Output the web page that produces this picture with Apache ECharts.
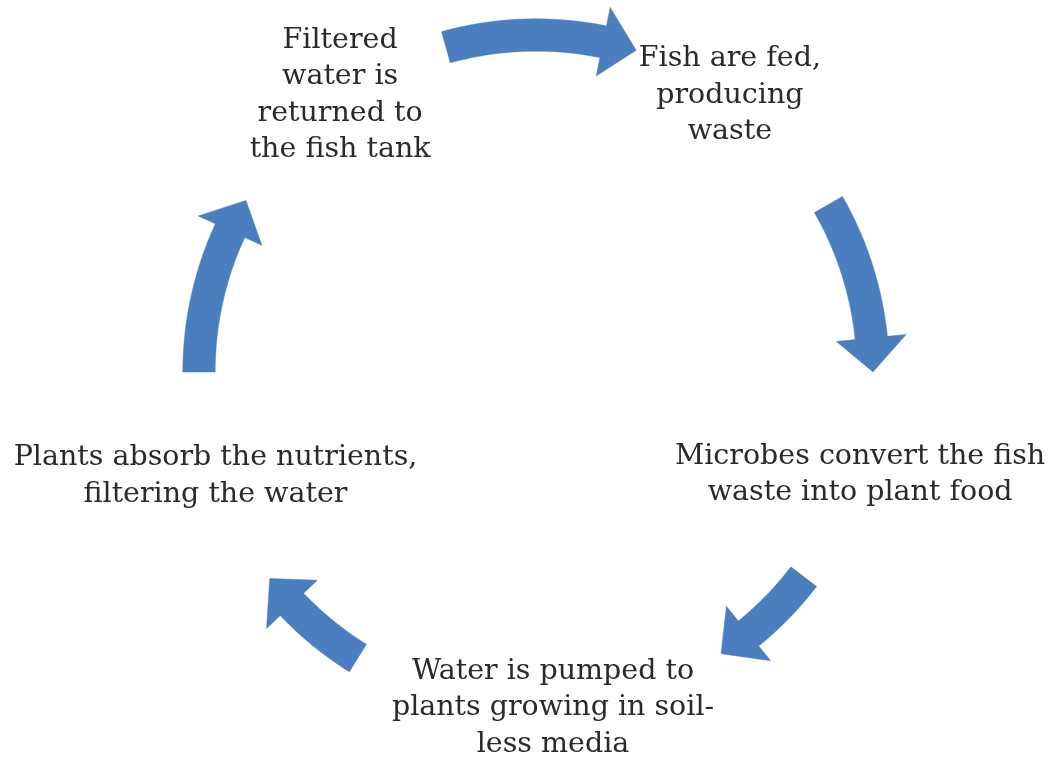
<!DOCTYPE html>
<html>
<head>
<meta charset="utf-8">
<script src="https://cdn.jsdelivr.net/npm/echarts@6/dist/echarts.min.js"></script>
<style>
html,body{margin:0;padding:0;background:#fff;}
#chart{width:1055px;height:766px;}
</style>
</head>
<body>
<div id="chart"></div>
<script>
// Cycle steps (text nodes), clockwise from top-left
const nodeLabels = [
  'Filtered\nwater is\nreturned to\nthe fish tank',
  'Fish are fed,\nproducing\nwaste',
  'Microbes convert the fish\nwaste into plant food',
  'Water is pumped to\nplants growing in soil-\nless media',
  'Plants absorb the nutrients,\nfiltering the water'
];
// node positions on the cycle: angle (deg, counter-clockwise from east) and radius (1 = ring)
const nodeAngles = [125.3, 55.0, -17.6, -87.1, 198.0];
const nodeRadii = [1.006, 1.003, 1.009, 0.998, 1.0];
// arrows: start angle (tail) and end angle (tip), running clockwise
const arrowStart = [105.5, 29.8, -37.4, -121.9, 180];
const arrowEnd = [72.7, 0, -56.7, -142.2, 149.4];

const norm = a => ((a % 360) + 360) % 360;

const chart = echarts.init(document.getElementById('chart'));
const option = {
  backgroundColor: '#ffffff',
  animation: false,
  polar: { center: [536, 372], radius: 337 },
  angleAxis: { type: 'value', min: 0, max: 360, startAngle: 0, clockwise: false, show: false },
  radiusAxis: { type: 'value', min: 0, max: 1, show: false },
  series: [
    {
      type: 'custom',
      coordinateSystem: 'polar',
      data: arrowStart.map((s, i) => [1, s, arrowEnd[i]]),
      renderItem: function (params, api) {
        const s = api.value(1), e = api.value(2);
        const shaftW = 0.048, headW = 0.104, headLen = 5.8;
        const dir = e < s ? -1 : 1;
        const base = e - dir * headLen;
        const pts = [];
        const n = 30;
        const P = (r, a) => api.coord([r, norm(a)]);
        for (let k = 0; k <= n; k++) pts.push(P(1 + shaftW, s + (base - s) * k / n));
        pts.push(P(1 + headW, base));
        pts.push(P(1, e));
        pts.push(P(1 - headW, base));
        for (let k = n; k >= 0; k--) pts.push(P(1 - shaftW, s + (base - s) * k / n));
        return {
          type: 'polygon',
          shape: { points: pts },
          style: { fill: '#4a7ebf', stroke: '#4a7ebf', lineWidth: 0.5 }
        };
      },
      silent: true,
      z: 1
    },
    {
      type: 'custom',
      coordinateSystem: 'polar',
      data: nodeAngles.map((a, i) => [nodeRadii[i], a, i]),
      renderItem: function (params, api) {
        const p = api.coord([api.value(0), norm(api.value(1))]);
        return {
          type: 'text',
          x: p[0], y: p[1],
          style: {
            text: nodeLabels[api.value(2)],
            fontFamily: 'DejaVu Serif',
            fontSize: 28.5,
            lineHeight: 36.5,
            fill: '#2a2a2a',
            align: 'center',
            verticalAlign: 'middle'
          }
        };
      },
      silent: true,
      z: 2
    }
  ]
};
chart.setOption(option);
</script>
</body>
</html>
